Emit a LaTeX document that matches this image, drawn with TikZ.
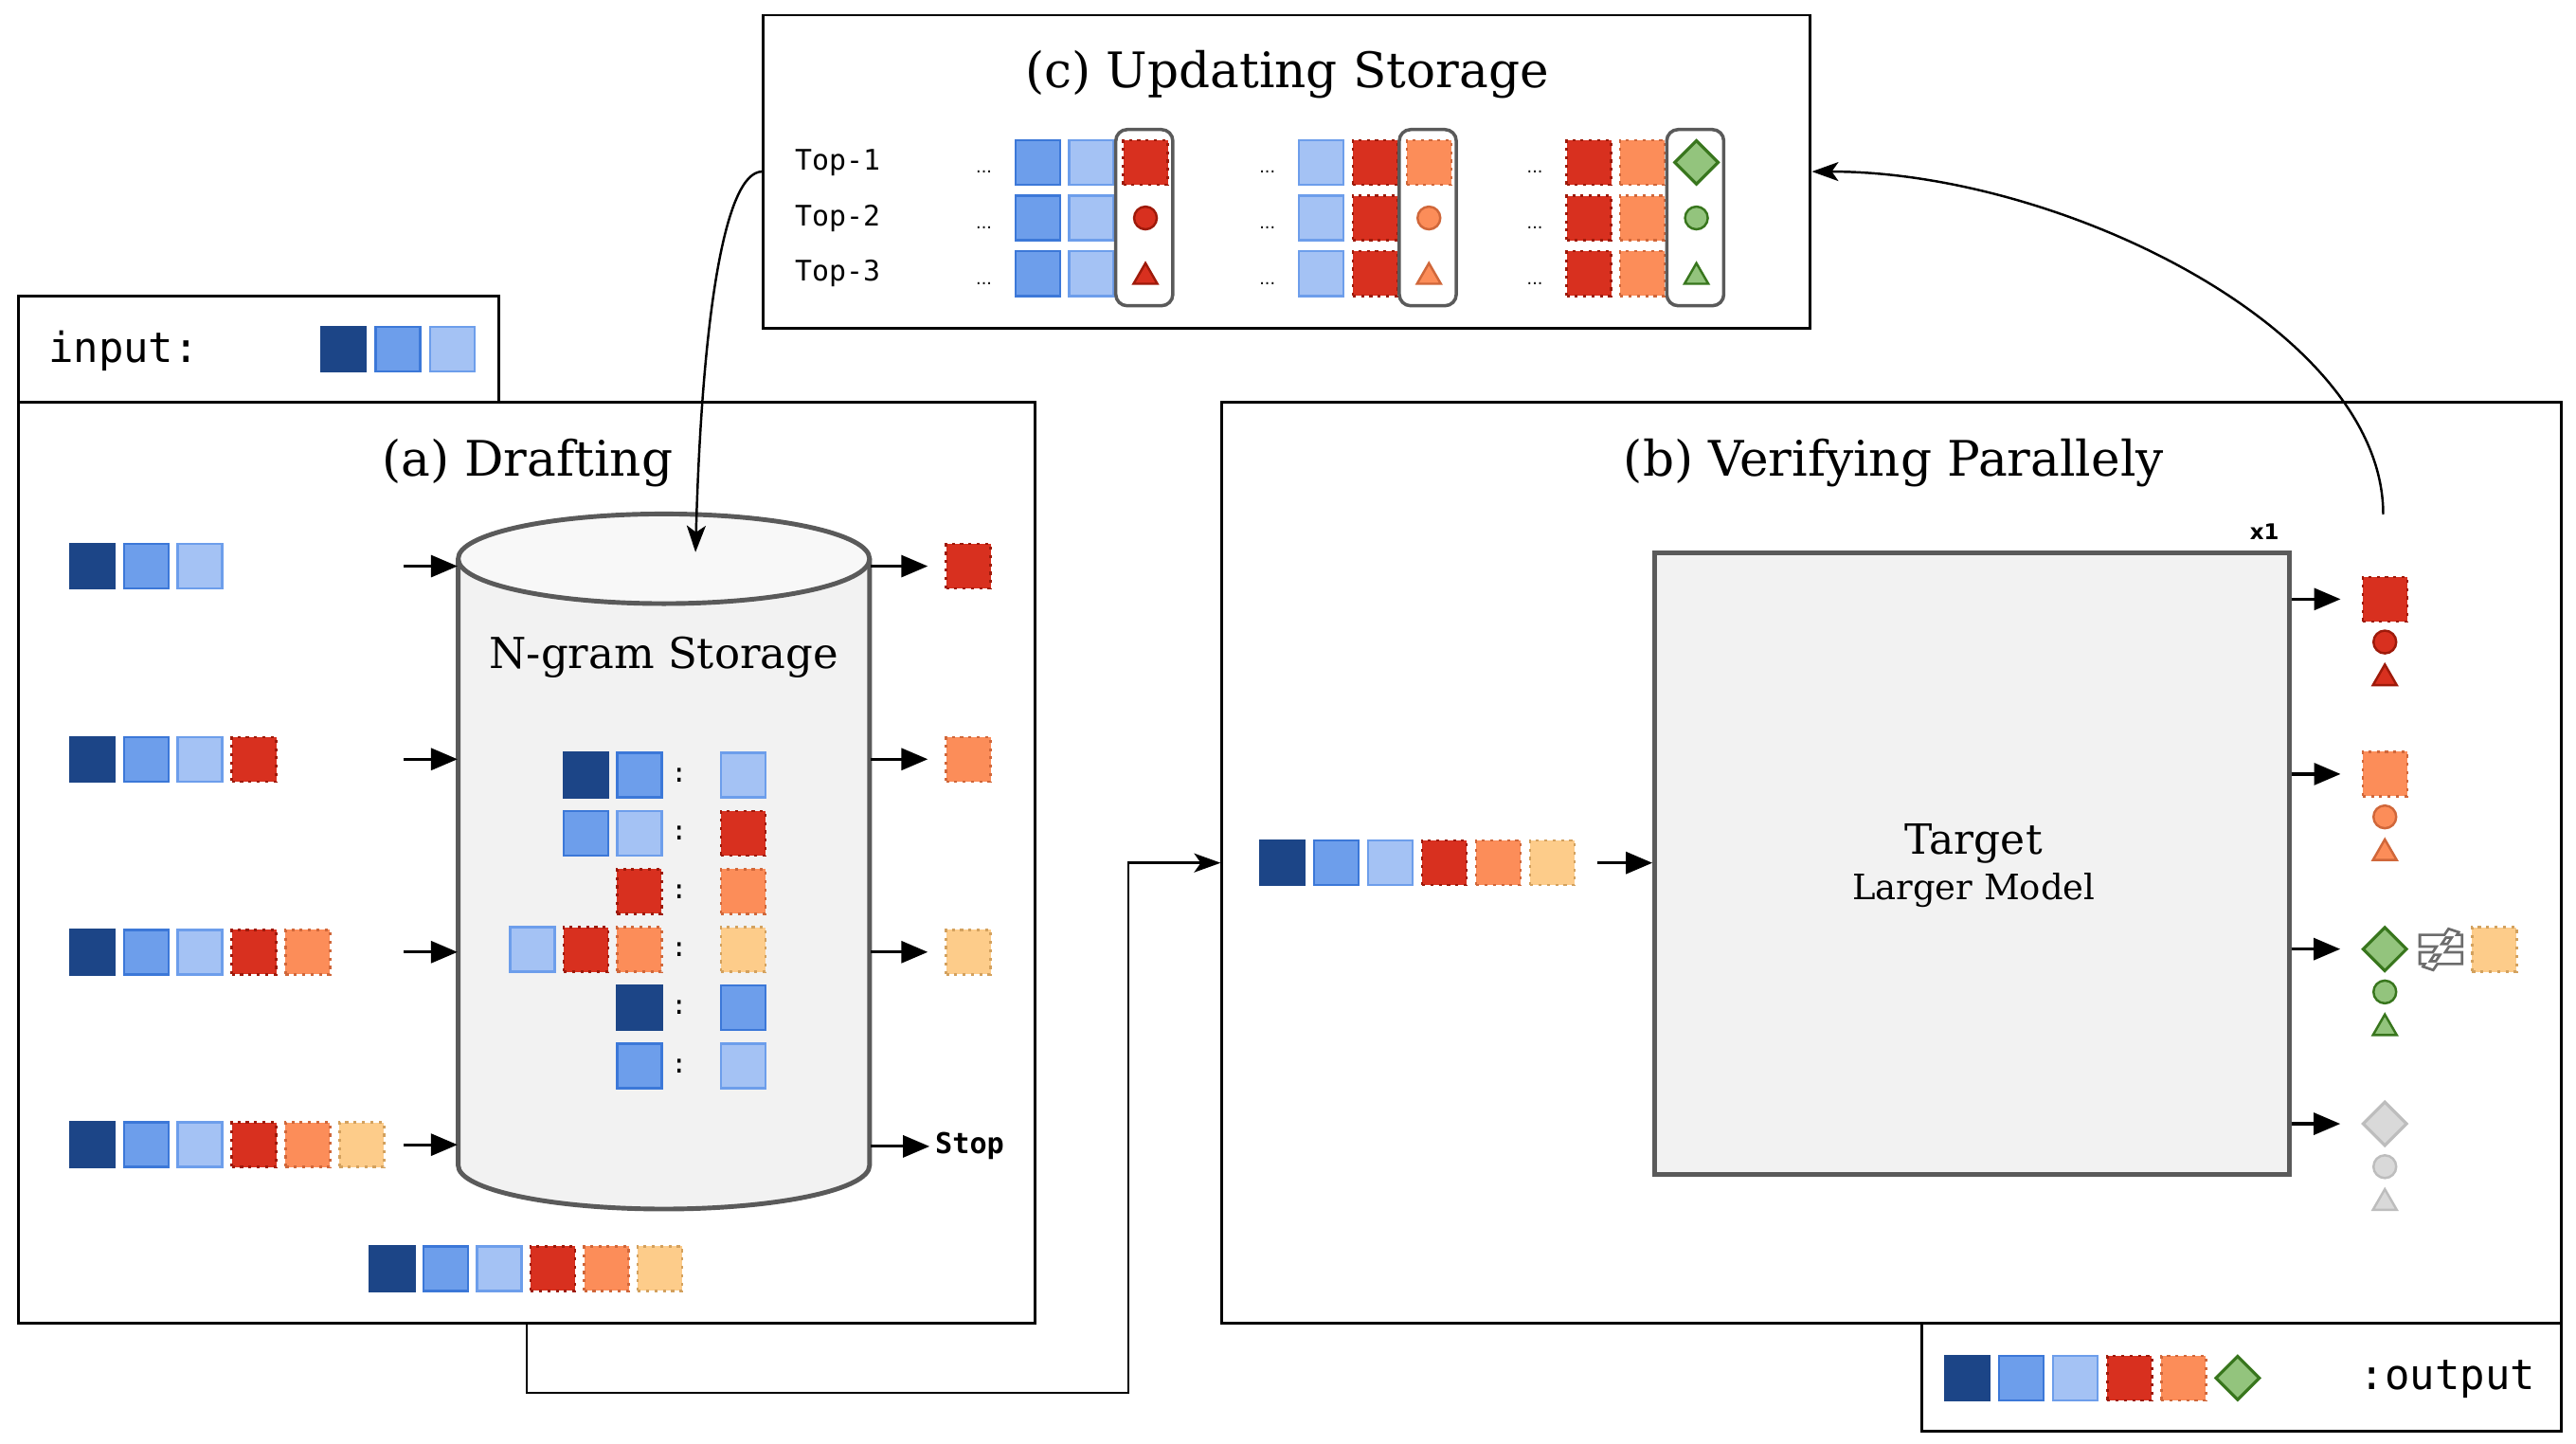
\documentclass[tikz,border=0pt]{standalone}
\usepackage{fontspec}
\setmainfont{DejaVu Serif}
\setsansfont{DejaVu Sans}
\setmonofont{DejaVu Sans Mono}
\usepackage{tikz}
\usetikzlibrary{shapes,arrows.meta,positioning,fit,calc}

\definecolor{tokA}{HTML}{1C4587}
\definecolor{tokB}{HTML}{6D9EEB}
\definecolor{tokBd}{HTML}{3C78D8}
\definecolor{tokC}{HTML}{A4C2F4}
\definecolor{tokD}{HTML}{D8301F}
\definecolor{tokDd}{HTML}{9E1A0A}
\definecolor{tokE}{HTML}{FC8D59}
\definecolor{tokEd}{HTML}{D0673A}
\definecolor{tokF}{HTML}{FDCC8A}
\definecolor{tokFd}{HTML}{D3A15E}
\definecolor{hitG}{HTML}{93C47D}
\definecolor{hitGd}{HTML}{38761D}
\definecolor{missH}{HTML}{D9D9D9}
\definecolor{missHd}{HTML}{BDBDBD}
\definecolor{canEdge}{HTML}{5A5A5A}
\definecolor{canBody}{HTML}{F2F2F2}
\definecolor{canLid}{HTML}{F8F8F8}

\tikzset{
  every node/.style={
    font=\fontsize{12}{14}\selectfont
  },
  panel/.style={
    shape=rectangle,
    draw=black,
    line width=0.85pt,
    inner sep=0pt
  },
  title/.style={
    font=\fontsize{14.7}{17}\selectfont
  },
  token/.style={
    shape=rectangle,
    minimum size=0.47cm,
    inner sep=0pt,
    line width=0.7pt
  },
  tok A/.style={token, fill=tokA, draw=tokA},
  tok B/.style={token, fill=tokB, draw=tokBd},
  tok C/.style={token, fill=tokC, draw=tokB},
  tok D/.style={token, fill=tokD, draw=tokDd, dash pattern=on 0.9pt off 1.6pt},
  tok E/.style={token, fill=tokE, draw=tokEd, dash pattern=on 0.9pt off 1.6pt},
  tok F/.style={token, fill=tokF, draw=tokFd, dash pattern=on 0.9pt off 1.6pt},
  tok G/.style={
    shape=diamond,
    minimum size=0.47cm,
    inner sep=0pt,
    line width=0.9pt,
    fill=hitG,
    draw=hitGd
  },
  tok H/.style={tok G, fill=missH, draw=missHd},
  dot/.style n args={2}{
    shape=circle,
    minimum size=0.24cm,
    inner sep=0pt,
    line width=0.7pt,
    fill=#1,
    draw=#2
  },
  cone/.style n args={2}{
    shape=regular polygon,
    regular polygon sides=3,
    minimum size=0.29cm,
    inner sep=0pt,
    line width=0.7pt,
    fill=#1,
    draw=#2
  },
  can/.style={draw=canEdge, line width=1.4pt},
  model/.style={
    shape=rectangle,
    fill=canBody,
    draw=canEdge,
    line width=1.4pt,
    inner sep=0pt
  },
  pick/.style={
    shape=rectangle,
    rounded corners=0.12cm,
    draw=canEdge,
    line width=1pt,
    inner sep=0pt
  },
  prompt/.style={font=\ttfamily\fontsize{12.5}{14}\selectfont, inner sep=0pt},
  rank/.style={font=\ttfamily\fontsize{8.5}{10}\selectfont, anchor=west, inner sep=0pt},
  gap/.style={font=\sffamily\fontsize{5}{6}\selectfont, inner sep=0pt},
  colon/.style={font=\ttfamily\fontsize{8}{9}\selectfont, inner sep=0pt},
  stop/.style={font=\ttfamily\bfseries\fontsize{8.6}{10}\selectfont, anchor=west, inner sep=1.5pt},
  count/.style={font=\sffamily\bfseries\fontsize{6.5}{7}\selectfont, inner sep=0pt},
  feed/.style={-{Triangle[length=0.28cm,width=0.23cm]}, line width=0.9pt},
  link/.style={-{Stealth[length=0.28cm,width=0.2cm,inset=0.07cm]}, line width=0.7pt}
}

\begin{document}
\begin{tikzpicture}[x=0.01739cm, y=-0.01739cm]
\useasboundingbox (0,0) rectangle (1563,876);

% frames
\node[panel, fit={(463.3,9.2) (1098.5,199)}] (update) {};
\node[panel, fit={(11.3,179.7) (302.5,244.3)}] (input) {};
\node[panel, fit={(11.3,244.3) (628,802.5)}] (drafting) {};
\node[panel, fit={(741.5,244.3) (1554,802.5)}] (verify) {};
\node[panel, fit={(1166,802.5) (1554,868.4)}] (output) {};

\node[title] (update title) at (781,45) {(c) Updating Storage};
\node[title] (drafting title) at (320,281) {(a) Drafting};
\node[title] (verify title) at (1149,281) {(b) Verifying Parallely};

% input and output
\node[prompt, anchor=west] (input text) at (29,213) {input:};
\foreach \tk [count=\i] in {A,B,C}
  \node[tok \tk] (in\i) at ({208.5+33*(\i-1)},211.7) {};
\foreach \tk [count=\i] in {A,B,C,D,E,G}
  \node[tok \tk] (out\i) at ({1193.7+32.8*(\i-1)},836) {};
\node[prompt] (output text) at (1485,837) {:output};

% (c) storage update
\foreach \k in {1,2,3}
  \node[rank] (top\k) at (482,{98.5+33.75*(\k-1)}) {Top-\k};
\foreach \x/\p/\q/\s/\fil/\lin [count=\grp] in {597/B/C/D/tokD/tokDd, 769/C/D/E/tokE/tokEd, 931.3/D/E/G/hitG/hitGd} {
  \foreach \y [count=\row] in {98.5,132.25,166} {
    \node[gap] (dots\grp-\row) at (\x,\y+6) {...};
    \node[tok \p] (hist\grp-\row-1) at (\x+32.7,\y) {};
    \node[tok \q] (hist\grp-\row-2) at (\x+65.3,\y) {};
  }
  \node[tok \s] (best\grp-1) at (\x+98,98.5) {};
  \node[dot={\fil}{\lin}] (best\grp-2) at (\x+98,132.25) {};
  \node[cone={\fil}{\lin}] (best\grp-3) at (\x+98,168) {};
  \node[pick, fit={(\x+80,78.6) (\x+114.6,185.5)}] (pick\grp) {};
}

% (a) drafting with the n-gram storage
\fill[canBody] (278,339) -- (278,707) arc[start angle=180, end angle=0, x radius=124.8, y radius=26.5] -- (527.6,339) -- cycle;
\draw[can] (278,339) -- (278,707) arc[start angle=180, end angle=0, x radius=124.8, y radius=26.5] -- (527.6,339);
\draw[can, fill=canLid] (402.8,339) ellipse [x radius=124.8, y radius=27.2];
\node[fit={(278,339) (527.6,707)}, inner sep=0pt] (store) {};
\node[font=\fontsize{12.8}{15}\selectfont] (store title) at (402.8,399) {N-gram Storage};

\foreach \y/\x/\keys/\val [count=\row] in {470.2/355.5/{A,B}/C, 505.5/355.5/{B,C}/D, 540.8/388/{D}/E, 576.1/323/{C,D,E}/F, 611.4/388/{A}/B, 646.7/388/{B}/C} {
  \foreach \tk [count=\i] in \keys
    \node[tok \tk] (key\row-\i) at ({\x+32.5*(\i-1)},\y) {};
  \node[colon] (sep\row) at (412,\y) {:};
  \node[tok \val] (val\row) at (451,\y) {};
}

\foreach \y/\seq [count=\row] in {343.5/{A,B,C}, 460.6/{A,B,C,D}, 577.6/{A,B,C,D,E}, 694.5/{A,B,C,D,E,F}} {
  \foreach \tk [count=\i] in \seq
    \node[tok \tk] (ctx\row-\i) at ({56+32.7*(\i-1)},\y) {};
  \coordinate (feed\row) at (245,\y);
  \draw[feed] (feed\row) -- (feed\row -| store.west);
}

\node[tok D] (next1) at (587.5,343.5) {};
\node[tok E] (next2) at (587.5,460.6) {};
\node[tok F] (next3) at (587.5,577.6) {};
\node[stop] (next4) at (564,695.5) {Stop};
\foreach \i in {1,2,3}
  \draw[feed, shorten >=0.18cm] (store.east |- next\i) -- (next\i.west);
\draw[feed] (store.east |- next4) -- (next4.west);

\foreach \tk [count=\i] in {A,B,C,D,E,F}
  \node[tok \tk] (draft\i) at ({238+32.5*(\i-1)},769.7) {};

% (b) verifying with the target model
\foreach \tk [count=\i] in {A,B,C,D,E,F}
  \node[tok \tk] (ver\i) at ({778+32.8*(\i-1)},523.5) {};
\node[model, fit={(1004,335.6) (1389,712.5)}] (target) {};
\node[font=\fontsize{12.5}{14}\selectfont] (target name) at (1197.5,512) {Target};
\node[font=\fontsize{10.5}{12}\selectfont] (target note) at (1197.5,540) {Larger Model};
\node[count] (passes) at (1374,322.4) {x1};
\draw[feed, shorten <=0.23cm] (ver6) -- (target.west |- ver6);

\foreach \y/\s/\fil/\lin [count=\row] in {363.5/D/tokD/tokDd, 469.6/E/tokE/tokEd, 575.8/G/hitG/hitGd, 681.8/H/missH/missHd} {
  \node[tok \s] (v\row) at (1447,\y) {};
  \node[dot={\fil}{\lin}] (v\row b) at (1447,\y+26) {};
  \node[cone={\fil}{\lin}] (v\row c) at (1447,\y+48) {};
  \draw[feed, shorten >=0.22cm] (target.east |- v\row) -- (v\row);
}

% rejected draft token
\node[tok F] (miss) at (1513.5,576) {};
\draw[draw=gray!85!black, line width=1.6pt] (1469,568) rectangle (1493,573.5) (1469,578.5) rectangle (1493,584)
  (1486,564.5) -- (1490.5,566) -- (1476,587.5) -- (1471.5,586) -- cycle;
\fill[white] (1469,568) rectangle (1493,573.5) (1469,578.5) rectangle (1493,584)
  (1486,564.5) -- (1490.5,566) -- (1476,587.5) -- (1471.5,586) -- cycle;

% connectors
\coordinate (bend) at (684.6,845);
\draw[link] (drafting.south) |- (bend) |- (verify.west |- ver1);
\coordinate (drop) at (422,335);
\draw[link] (update.west) .. controls (440,104.1) and (426,190) .. (drop);
\coordinate (lift) at (1446,312);
\draw[link] (lift) .. controls (1446,200) and (1250,104.1) .. (update.east);

\end{tikzpicture}
\end{document}
